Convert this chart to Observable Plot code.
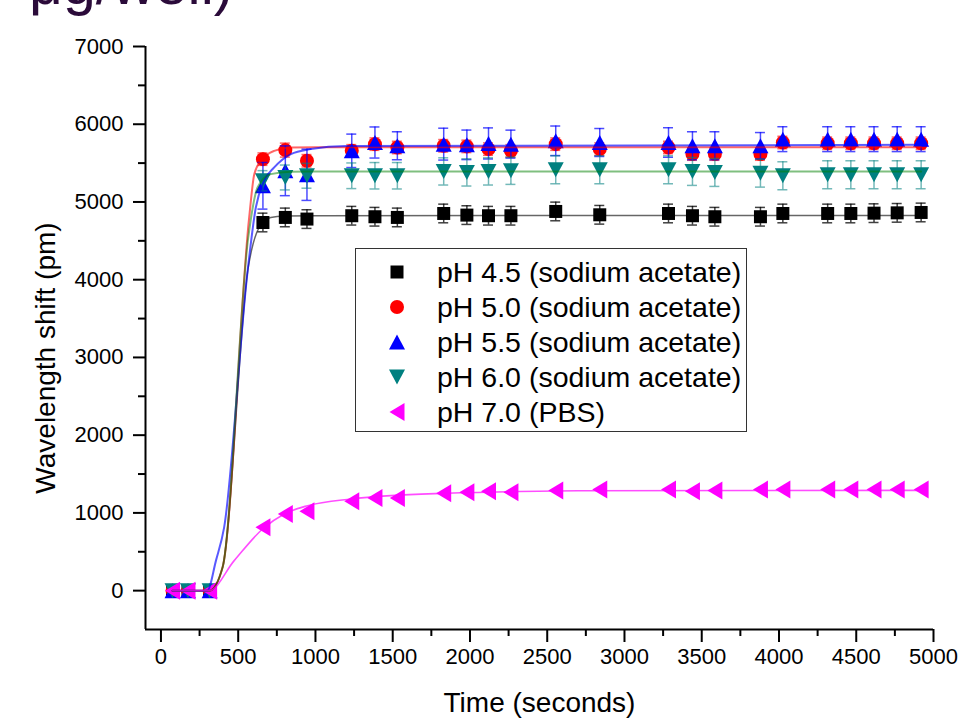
<!DOCTYPE html>
<html>
<head>
<meta charset="utf-8">
<script src="https://cdn.jsdelivr.net/npm/d3@7"></script>
<script src="https://cdn.jsdelivr.net/npm/@observablehq/plot@0.6"></script>
<style>
  html, body { margin: 0; padding: 0; background: #fff; }
  body { font-family: "Liberation Sans", Arial, sans-serif; }
  #wrap { position: relative; width: 961px; height: 721px; overflow: hidden; background: #fff; }
  #frag { position: absolute; left: 0; top: 0; }
  #legend { position: absolute; left: 355px; top: 248px; width: 392px; height: 184px;
            border: 1px solid #333; box-sizing: border-box; background: #fff; }
  .row { position: absolute; left: 0; height: 35px; width: 100%; }
  .row svg { position: absolute; left: 31px; top: 7px; }
  .row span { position: absolute; left: 81px; top: 0; line-height: 35px; font-size: 28.5px;
              color: #000; white-space: nowrap; }
</style>
</head>
<body>
<div id="wrap">
  <svg id="frag" width="961" height="30"><text x="29" y="4" font-size="59" fill="#2b0b3a"
    font-family="Liberation Sans, Arial, sans-serif">μg/well)</text></svg>
  <div id="chart"></div>
  <div id="legend"></div>
</div>
<script>
// ---- data ----
const times = [75, 175, 315, 660, 805, 945, 1235, 1385, 1530, 1830, 1980, 2120, 2265, 2555, 2840, 3285, 3440, 3585, 3880, 4025, 4315, 4465, 4615, 4765, 4920];

const ph45 = [0, 0, 0, 4736, 4801, 4780, 4823, 4810, 4801, 4852, 4831, 4823, 4823, 4878, 4835, 4852, 4823, 4810, 4810, 4852, 4852, 4852, 4856, 4860, 4865];
const err45 = [30, 30, 30, 120, 120, 120, 120, 120, 120, 120, 120, 120, 120, 120, 120, 120, 120, 120, 120, 120, 120, 120, 120, 120, 120];

const ph50 = [0, 0, 0, 5551, 5667, 5530, 5658, 5744, 5701, 5723, 5715, 5680, 5658, 5744, 5680, 5701, 5616, 5616, 5616, 5765, 5755, 5755, 5755, 5755, 5755];
const err50 = [20, 20, 20, 80, 90, 80, 80, 80, 80, 80, 80, 80, 80, 80, 80, 80, 80, 80, 80, 80, 80, 80, 80, 80, 80];

const ph55 = [0, 0, 0, 5208, 5401, 5350, 5658, 5765, 5723, 5744, 5735, 5753, 5744, 5787, 5765, 5765, 5723, 5723, 5723, 5808, 5808, 5808, 5808, 5808, 5808];
const err55 = [40, 40, 40, 300, 320, 330, 215, 200, 180, 205, 190, 200, 180, 190, 180, 190, 180, 180, 170, 160, 160, 160, 160, 160, 160];

const ph60 = [0, 0, 0, 5273, 5315, 5337, 5337, 5337, 5337, 5393, 5380, 5393, 5401, 5414, 5414, 5414, 5393, 5380, 5371, 5337, 5350, 5350, 5350, 5350, 5350];
const err60 = [30, 30, 30, 130, 160, 160, 165, 170, 170, 175, 175, 175, 175, 180, 180, 180, 180, 180, 180, 180, 180, 180, 180, 180, 180];

const ph70 = [0, 0, 0, 815, 987, 1021, 1149, 1192, 1192, 1253, 1265, 1278, 1265, 1287, 1300, 1300, 1278, 1287, 1300, 1300, 1300, 1300, 1300, 1300, 1300];

// fitted curves
const fit45T = [75, 315, 399, 565, 636, 711, 800, 1000, 4920];
const fit45V = [0, 0, 300, 4158, 4672, 4801, 4818, 4823, 4826];
const fit50T = [75, 315, 399, 571, 604, 647, 733, 841, 1000, 4920];
const fit50V = [0, 0, 300, 4801, 5358, 5530, 5658, 5700, 5705, 5705];
const fit55T = [75, 300, 356, 409, 561, 614, 668, 733, 841, 970, 1200, 4920];
const fit55V = [0, 0, 386, 814, 4115, 4929, 5273, 5444, 5616, 5680, 5720, 5735];
const fit60T = [75, 315, 399, 565, 625, 711, 840, 1000, 4920];
const fit60V = [0, 0, 300, 4544, 5187, 5358, 5390, 5393, 5393];
const fit70T = [75, 312, 474, 658, 798, 949, 1229, 1488, 1811, 2243, 2700, 4920];
const fit70V = [0, 0, 386, 793, 986, 1093, 1179, 1222, 1251, 1273, 1285, 1290];

const seriesNames = ["pH 4.5 (sodium acetate)", "pH 5.0 (sodium acetate)", "pH 5.5 (sodium acetate)", "pH 6.0 (sodium acetate)", "pH 7.0 (PBS)"];
const markerColors = ["#000000", "#ff0000", "#0000ff", "#008080", "#ff00ff"];
const lineColors = ["#000000", "#ff0000", "#0000ff", "#008000", "#ff00ff"];

const xMin = -100, xMax = 5000, yMin = -500, yMax = 7000;
const xMajor = d3.range(0, 5001, 500);
const xMinor = d3.range(250, 5000, 500);
const yMajor = d3.range(0, 7001, 1000);
const yMinor = d3.range(-500, 7000, 1000).filter(v => v > yMin);

// ---- marker shapes ----
const shapes = [
  {draw(c) { c.rect(-6.5, -6.5, 13, 13); }},
  {draw(c) { c.moveTo(7, 0); c.arc(0, 0, 7, 0, 2 * Math.PI); c.closePath(); }},
  {draw(c) { c.moveTo(0, -7.5); c.lineTo(8, 7.5); c.lineTo(-8, 7.5); c.closePath(); }},
  {draw(c) { c.moveTo(0, 7.5); c.lineTo(8, -7.5); c.lineTo(-8, -7.5); c.closePath(); }},
  {draw(c) { c.moveTo(-7.5, 0); c.lineTo(7.5, -9); c.lineTo(7.5, 9); c.closePath(); }}
];

const values = [ph45, ph50, ph55, ph60, ph70];
const errors = [err45, err50, err55, err60, null];
const fits = [[fit45T, fit45V], [fit50T, fit50V], [fit55T, fit55V], [fit60T, fit60V], [fit70T, fit70V]];
const errStyle = [
  {stroke: "#000000", opacity: 0.75},
  {stroke: "#ff0000", opacity: 0.6},
  {stroke: "#0000ff", opacity: 0.7},
  {stroke: "#008080", opacity: 0.55},
  null
];
const lineStyle = [
  {opacity: 0.6, w: 1.5},
  {opacity: 0.6, w: 2},
  {opacity: 0.65, w: 2},
  {opacity: 0.5, w: 2},
  {opacity: 0.7, w: 1.6}
];

const pointMarks = [];
values.forEach((vals, s) => {
  const obs = times.map((t, i) => ({t, v: vals[i], e: errors[s] ? errors[s][i] : 0}));
  if (errors[s]) {
    const st = errStyle[s];
    pointMarks.push(
      Plot.ruleX(obs, {x: "t", y1: d => d.v - d.e, y2: d => d.v + d.e, stroke: st.stroke, strokeOpacity: st.opacity, strokeWidth: 1.5}),
      Plot.ruleY(obs, {x1: "t", x2: "t", y: d => d.v + d.e, insetLeft: -5, insetRight: -5, stroke: st.stroke, strokeOpacity: st.opacity, strokeWidth: 1.5}),
      Plot.ruleY(obs, {x1: "t", x2: "t", y: d => d.v - d.e, insetLeft: -5, insetRight: -5, stroke: st.stroke, strokeOpacity: st.opacity, strokeWidth: 1.5})
    );
  }
  pointMarks.push(Plot.dot(obs, {x: "t", y: "v", symbol: shapes[s], fill: markerColors[s], stroke: "none", r: 7}));
});

const lineMarks = fits.map(([T, V], s) => {
  const pts = T.map((t, i) => ({t, v: V[i]}));
  return Plot.line(pts, {x: "t", y: "v", curve: "monotone-x", stroke: lineColors[s],
    strokeOpacity: lineStyle[s].opacity, strokeWidth: lineStyle[s].w});
});

const chart = Plot.plot({
  width: 961,
  height: 721,
  marginLeft: 145,
  marginRight: 28,
  marginTop: 46,
  marginBottom: 92,
  x: {domain: [xMin, xMax]},
  y: {domain: [yMin, yMax]},
  style: {fontFamily: "Liberation Sans, Arial, sans-serif", fontSize: "22px", color: "#000", background: "transparent", overflow: "visible"},
  marks: [
    Plot.axisY({ticks: yMajor, tickSize: 12, tickPadding: 10, strokeWidth: 2, tickFormat: d3.format("d"), label: null}),
    Plot.axisY({ticks: yMinor, tickSize: 7, strokeWidth: 2, text: null, label: null}),
    Plot.axisX({ticks: xMajor, tickSize: 13, tickPadding: 6, strokeWidth: 2, tickFormat: d3.format("d"), label: null}),
    Plot.axisX({ticks: xMinor, tickSize: 7, strokeWidth: 2, text: null, label: null}),
    Plot.ruleX([xMin], {strokeWidth: 2}),
    Plot.ruleY([yMin], {strokeWidth: 2}),
    ...pointMarks,
    ...lineMarks,
    Plot.text(["Wavelength shift (pm)"], {text: d => d, frameAnchor: "left", rotate: -90, dx: -99, dy: 20,
      textAnchor: "middle", lineAnchor: "middle", fontSize: 28}),
    Plot.text(["Time (seconds)"], {text: d => d, frameAnchor: "bottom", dy: 74,
      textAnchor: "middle", lineAnchor: "middle", fontSize: 28})
  ]
});
document.getElementById("chart").appendChild(chart);

// ---- legend (inside the plot area) ----
const legend = document.getElementById("legend");
seriesNames.forEach((name, i) => {
  const row = document.createElement("div");
  row.className = "row";
  row.style.top = (6 + i * 35) + "px";
  const p = d3.symbol(shapes[i])();
  row.innerHTML = `<svg width="20" height="20" viewBox="-10 -10 20 20"><path d="${p}" fill="${markerColors[i]}"/></svg><span>${name}</span>`;
  legend.appendChild(row);
});
</script>
</body>
</html>
